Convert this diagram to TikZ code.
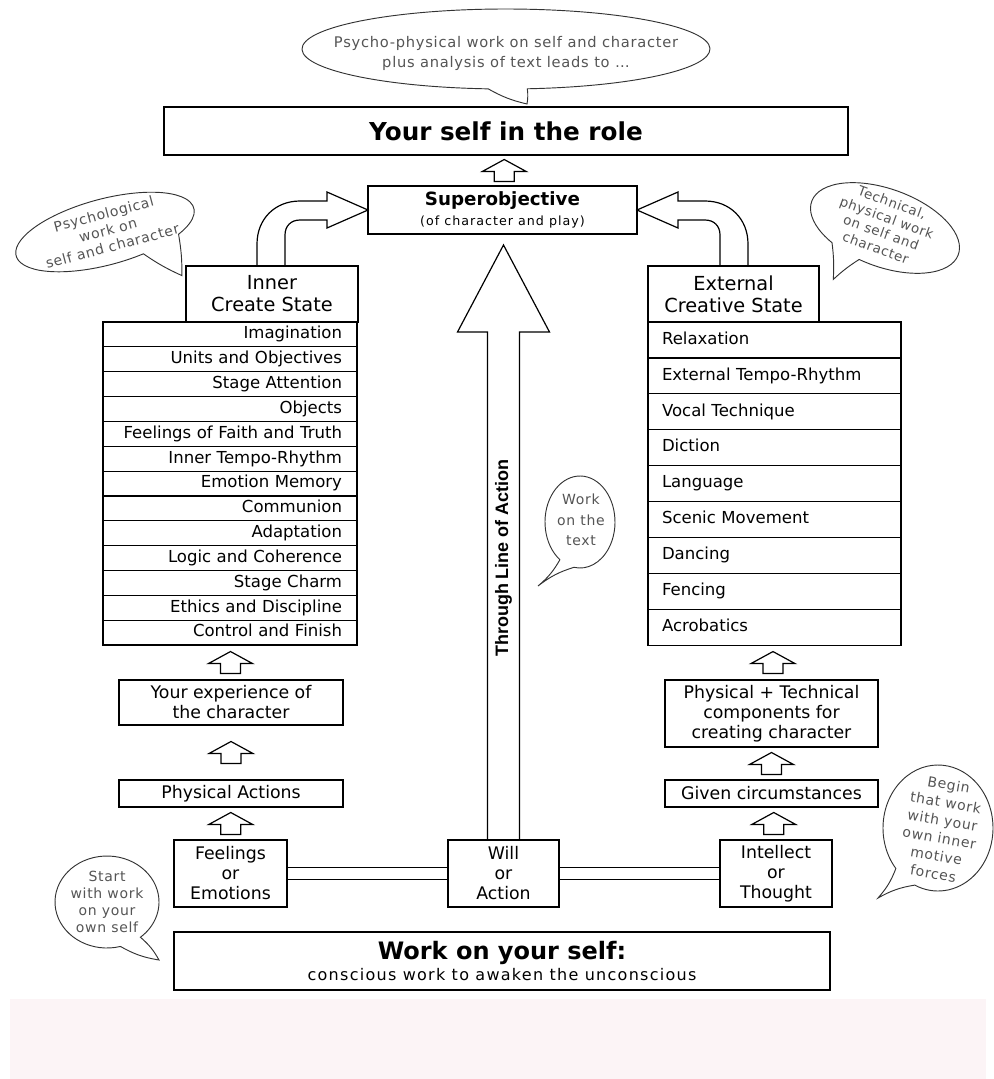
\documentclass[tikz,border=0pt]{standalone}
\usepackage{fontspec}
\setmainfont{DejaVu Sans}
\newfontfamily\handfont{DejaVu Sans}[LetterSpace=5]
\newfontfamily\thrufont{Liberation Sans}
\usetikzlibrary{calc}
\definecolor{handgray}{HTML}{555555}
\definecolor{pinkbg}{RGB}{252,244,246}
\begin{document}
\begin{tikzpicture}[x=0.75pt,y=-0.75pt,
  box/.style={draw, line width=0.9pt, inner sep=0pt, outer sep=0pt, align=center, font=\fontsize{13}{15}\selectfont},
  thickbox/.style={box, line width=1.7pt},
  headbox/.style={box, font=\fontsize{14.5}{16.5}\selectfont},
  rowL/.style={draw, line width=0.9pt, outer sep=0pt, inner ysep=0pt, inner xsep=11.25pt, minimum height=18.64pt, text width=168pt, align=right, text height=9pt, text depth=2.5pt, font=\fontsize{12.4}{14}\selectfont},
  rowR/.style={draw, line width=0.9pt, outer sep=0pt, inner ysep=0pt, inner xsep=10.5pt, minimum height=26.93pt, text width=168.75pt, align=left, text height=9pt, text depth=2.5pt, font=\fontsize{12.4}{14}\selectfont},
  bub/.style={draw=black!80, line width=0.7pt, fill=white},
  hand/.style={text=handgray, font=\handfont\fontsize{10.5}{12.5}\selectfont, align=center, inner sep=0pt},
  blockarrow/.style={draw, line width=0.9pt, line join=miter},
  uparr/.pic={\draw[blockarrow, fill=white] (0,-11) -- (22,1) -- (10,1) -- (10,11) -- (-10,11) -- (-10,1) -- (-22,1) -- cycle;}
]
\useasboundingbox (0,0) rectangle (994,1079);
\fill[pinkbg] (10,999) rectangle (986,1079);

% ---------- speech bubbles ----------
\begin{scope}[shift={(506,49)}]
  \draw[bub] (95:204 and 40) arc[start angle=95, end angle=444, x radius=204, y radius=40]
    to[bend left=8] (21,55) to[bend left=8] (95:204 and 40);
\end{scope}
\begin{scope}[shift={(105,232)}, rotate=15]
  \draw[bub] (70:92 and 33) arc[start angle=70, end angle=400, x radius=92, y radius=33]
    to[bend left=5] (63,62) to[bend left=5] (70:92 and 33);
\end{scope}
\begin{scope}[shift={(885,228)}, rotate=-20]
  \draw[bub] (125:78 and 39) arc[start angle=125, end angle=460, x radius=78, y radius=39]
    to[bend right=5] (-31,66) to[bend right=5] (125:78 and 39);
\end{scope}
\begin{scope}[shift={(580,522)}]
  \draw[bub] (125:35 and 46) arc[start angle=125, end angle=460, x radius=35, y radius=46]
    to[bend right=10] (-42,64) to[bend right=10] (125:35 and 46);
\end{scope}
\begin{scope}[shift={(938,828)}]
  \draw[bub] (140:55 and 63) arc[start angle=140, end angle=475, x radius=55, y radius=63]
    to[bend right=10] (-60,70) to[bend right=10] (140:55 and 63);
\end{scope}
\begin{scope}[shift={(107,902)}]
  \draw[bub] (75:52 and 46) arc[start angle=75, end angle=410, x radius=52, y radius=46]
    to[bend left=10] (52,58) to[bend left=10] (75:52 and 46);
\end{scope}

\node[hand, font=\handfont\fontsize{11}{15}\selectfont] (tb) at (506,53) {Psycho-physical work on self and character\\plus analysis of text leads to \dots};
\node[hand, rotate=15] (lb) at (108,230) {Psychological\\work on\\self and character};
\node[hand, rotate=-20, font=\handfont\fontsize{10}{12}\selectfont] (rb) at (884,225) {Technical,\\physical work\\on self and\\character};
\node[hand, font=\handfont\fontsize{10.5}{15.5}\selectfont] (wt) at (581,520) {Work\\on the\\text};
\node[hand, rotate=-10, font=\handfont\fontsize{10.5}{13.5}\selectfont] (bg) at (941,829) {Begin\\that work\\with your\\own inner\\motive\\forces};
\node[hand, font=\handfont\fontsize{10.5}{12.75}\selectfont] (st) at (107,902) {Start\\with work\\on your\\own self};

% ---------- boxes ----------
\node[thickbox, minimum width=513pt, minimum height=36pt, font=\fontsize{18.5}{20}\bfseries] (role) at (506,131) {Your self in the role};
\node[box, minimum width=201.75pt, minimum height=36pt, font=\fontsize{9.5}{15}\selectfont] (super) at (502.5,210)
  {{\fontsize{13.7}{15}\bfseries Superobjective}\\{\addfontfeatures{LetterSpace=8}(of character and play)}};

\node[headbox, minimum width=129pt, minimum height=42pt] (innerh) at (272,294) {Inner\\Create State};
\node[headbox, minimum width=128.25pt, minimum height=42pt] (exth) at (733.5,294) {External\\Creative State};

\foreach \t [count=\i] in {Imagination,Units and Objectives,Stage Attention,Objects,Feelings of Faith and Truth,Inner Tempo-Rhythm,Emotion Memory,Communion,Adaptation,Logic and Coherence,Stage Charm,Ethics and Discipline,Control and Finish}
  \node[rowL] (L\i) at (230,{322+24.85*(\i-0.5)}) {\t};
\foreach \t [count=\i] in {Relaxation,External Tempo-Rhythm,Vocal Technique,Diction,Language,Scenic Movement,Dancing,Fencing,Acrobatics}
  \node[rowR] (R\i) at (774.5,{322+35.9*(\i-0.5)}) {\t};

\node[box, minimum width=168pt, minimum height=33.75pt] (exp) at (231,702.5) {Your experience of\\the character};
\node[box, minimum width=168pt, minimum height=20.25pt] (phys) at (231,793.5) {Physical Actions};
\node[box, minimum width=84.75pt, minimum height=50.25pt] (feel) at (230.5,873.5) {Feelings\\or\\Emotions};
\node[box, minimum width=83.25pt, minimum height=50.25pt] (will) at (503.5,873.5) {Will\\or\\Action};
\node[box, minimum width=84pt, minimum height=50.25pt] (intel) at (776,873.5) {Intellect\\or\\Thought};
\node[box, minimum width=159.75pt, minimum height=50.25pt] (ptc) at (771.5,713.5) {Physical + Technical\\components for\\creating character};
\node[box, minimum width=159.75pt, minimum height=20.25pt] (given) at (771.5,793.5) {Given circumstances};
\node[thickbox, minimum width=492pt, minimum height=43.5pt, font=\fontsize{12}{16}\selectfont] (work) at (502,961)
  {{\fontsize{18}{16}\bfseries Work on your self:}\\{\addfontfeatures{LetterSpace=8}conscious work to awaken the unconscious}};

% ---------- small up arrows ----------
\pic at ($(role.south)!0.5!(super.north)$) {uparr};
\pic at ($(L13.south)!0.5!(exp.north)$) {uparr};
\pic at ($(exp.south)!0.5!(phys.north)$) {uparr};
\pic at ($(phys.south)!0.5!(feel.north)$) {uparr};
\pic at ($(R9.south)!0.5!(ptc.north)$) {uparr};
\pic at ($(ptc.south)!0.5!(given.north)$) {uparr};
\pic at ($(given.south)!0.5!(intel.north)$) {uparr};

% ---------- through line of action ----------
\draw[blockarrow] ($(will.north)+(-16,0)$) -- ++(0,-508) -- ++(-30,0) -- ++(46,-87) -- ++(46,87) -- ++(-30,0) -- ($(will.north)+(16,0)$);
\node[rotate=90, font=\thrufont\fontsize{13.5}{15}\selectfont\bfseries] (thru) at (503.5,558) {Through Line of Action};
\draw[line width=0.9pt] ($(will.south)+(-9,0)$) -- ($(will.south)+(-9,0)$ |- work.north);
\draw[line width=0.9pt] ($(will.south)+(9,0)$) -- ($(will.south)+(9,0)$ |- work.north);

% ---------- double connectors ----------
\draw[line width=0.9pt] ($(feel.east)+(0,-6)$) -- ($(will.west)+(0,-6)$);
\draw[line width=0.9pt] ($(feel.east)+(0,6)$) -- ($(will.west)+(0,6)$);
\draw[line width=0.9pt] ($(will.east)+(0,-6)$) -- ($(intel.west)+(0,-6)$);
\draw[line width=0.9pt] ($(will.east)+(0,6)$) -- ($(intel.west)+(0,6)$);

% ---------- curved block arrows to superobjective ----------
\draw[blockarrow] (257,266) -- (257,244) .. controls (257,219) and (275,201) .. (300,201) -- (327,201) -- (327,192)
  -- (super.west) -- (327,228) -- (327,220) -- (300,220) .. controls (291,220) and (285,226) .. (285,235) -- (285,266);
\draw[blockarrow] (748,266) -- (748,244) .. controls (748,219) and (730,201) .. (705,201) -- (678,201) -- (678,192)
  -- (super.east) -- (678,228) -- (678,220) -- (705,220) .. controls (714,220) and (720,226) .. (720,235) -- (720,266);
\end{tikzpicture}
\end{document}
